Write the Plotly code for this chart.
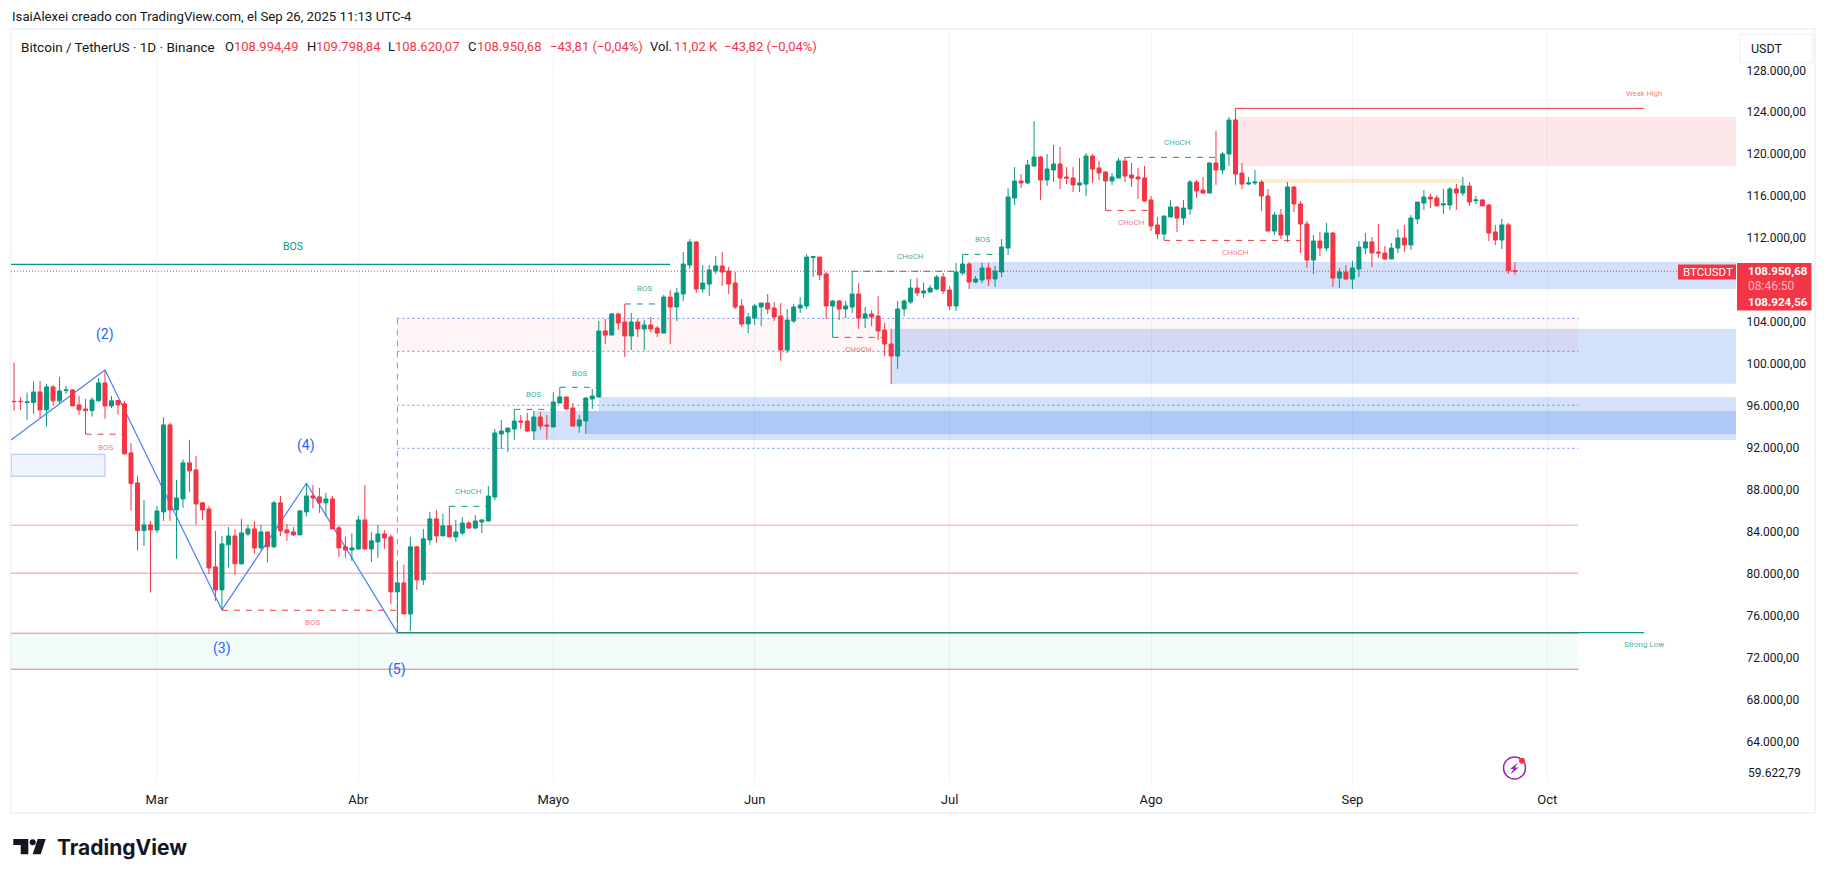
import pandas as pd
import plotly.graph_objects as go

# daily candles, month by month
open_vals = [
    96560, 96560, 96440, 96440, 97450, 95740, 97930, 96600, 97580, 97640, 96210, 95830, 95670, 96600, 98310, 96120, 96630, 96310, 91640, 88780, 84240, 84780,
    84300, 86020, 94310, 86210, 87260, 90690, 90020, 86880, 86300, 80780, 78590, 82880, 83730, 81070, 83920, 84400, 82590, 84110, 82690, 86880, 84300, 84110, 83830, 86020, 87540, 87450, 86880, 87260, 84500, 82690, 82400,
    82490, 85260, 82490, 83160, 83920, 83640, 78400, 79250, 76300, 82690, 79540, 83350, 85350, 83730, 84690, 83640, 84010, 84960, 84480, 85060, 85150, 87440, 93440, 93630, 93920, 94680, 94680, 93730, 95060, 94300,
    94110, 96390, 96970, 95920, 94200, 94680, 96780, 96970, 103260, 102870, 104880, 104110, 102780, 104110, 103450, 103830, 103540, 103060, 106490, 105540, 106780, 109540, 111740, 107260, 107730, 108970, 109450, 108970, 107830, 105640, 103920,
    104490, 105540, 105920, 105450, 104680, 101440, 104210, 105450, 105640, 110270, 110300, 108690, 105640, 106110, 105350, 105540, 106780, 104490, 104880, 104680, 103350, 102020, 100870, 105350, 106020, 107350, 106880, 106970, 107260, 108400,
    107160, 105640, 108780, 109640, 107920, 108120, 109260, 108210, 108880, 111160, 115930, 117550, 117360, 118980, 119830, 117640, 118600, 119170, 117930, 117830, 117170, 117260, 119930, 118790, 118400, 117550, 117830, 119450, 118120, 117930, 117830,
    115740, 113360, 112500, 114120, 115070, 114020, 114880, 117450, 116690, 116400, 119260, 118600, 120120, 123360, 118310, 117260, 117360, 117450, 116120, 112780, 114310, 112400, 116980, 115360, 113450, 110020, 111830, 111160, 112590, 108300, 108880,
    108210, 109160, 111160, 111740, 110780, 110690, 110120, 111160, 112120, 111450, 113930, 115450, 116020, 115930, 115260, 115260, 116790, 116400, 117070, 115670, 115740, 115260, 112690, 111930, 113360, 108994.49,
]
high_vals = [
    100250, 96950, 97390, 98440, 98500, 98220, 98120, 98880, 98030, 97710, 97070, 96790, 96950, 98760, 99550, 97070, 96690, 96600, 92560, 89450, 87160, 85160,
    86590, 95040, 94500, 89070, 91040, 92880, 91360, 86990, 86590, 84210, 83730, 84590, 84370, 85350, 84780, 85160, 84780, 84110, 87070, 87540, 84880, 84590, 86210, 88750, 88590, 88310, 87830, 87540, 84690, 83640, 83990,
    85640, 88590, 84110, 84780, 84300, 83890, 81350, 80970, 83640, 82780, 84400, 86020, 86210, 85830, 86590, 85260, 85530, 85150, 85720, 85340, 88490, 93920, 94780, 94020, 95790, 95250, 95440, 95630, 95570, 95250,
    97410, 97890, 96970, 96390, 95250, 96940, 97730, 104210, 104400, 104970, 105000, 105830, 104970, 104400, 104300, 104590, 103730, 106690, 107160, 107350, 110780, 112020, 111830, 109540, 109540, 110400, 110780, 109350, 108880, 106300, 104970,
    105830, 105920, 106780, 106020, 105920, 105350, 105830, 106490, 110590, 110400, 110300, 108880, 106210, 106210, 106110, 108970, 107830, 105540, 105260, 106590, 104020, 103450, 106110, 106300, 108210, 108310, 107860, 107640, 108590, 108780,
    107540, 109740, 110560, 109830, 108500, 109740, 109740, 109450, 112020, 116880, 118880, 118210, 119550, 123260, 119930, 120120, 120980, 120790, 118880, 118880, 119740, 120220, 120120, 119450, 118500, 118310, 119740, 119830, 119260, 118790, 118980,
    116120, 114120, 114210, 115740, 115170, 115740, 117640, 117640, 117930, 119360, 122310, 120310, 123650, 124470, 119260, 117930, 118600, 117640, 116790, 114590, 114880, 117450, 117070, 115640, 113740, 112400, 112690, 113550, 112690, 109260, 109540,
    109930, 111830, 112590, 112210, 113450, 111350, 111640, 112970, 113360, 114310, 115550, 116690, 116310, 116210, 116790, 116980, 117260, 117930, 117450, 116120, 115830, 115360, 113360, 113930, 113550, 109798.84,
]
low_vals = [
    95670, 95740, 94790, 95360, 94940, 94150, 96120, 96370, 97260, 96120, 95260, 93420, 95100, 96530, 94910, 95900, 95290, 91480, 86150, 82340, 82780, 78330,
    83990, 85160, 85160, 81540, 86400, 87930, 84780, 85260, 80110, 77540, 76680, 80720, 80020, 80970, 83730, 82020, 82400, 81190, 82590, 83730, 83260, 83730, 83830, 85580, 86370, 85920, 85580, 84400, 81730, 81640, 81350,
    82400, 82400, 81260, 81640, 82490, 77250, 74520, 76300, 74680, 78590, 79060, 82880, 83070, 83730, 83640, 83160, 83820, 84390, 84390, 84010, 85100, 87150, 92010, 91730, 92870, 93920, 93630, 92870, 93820, 92930,
    94110, 96360, 95820, 94200, 93540, 93440, 95820, 96970, 102020, 102870, 103350, 100780, 101440, 102680, 101440, 103160, 102680, 103060, 102020, 104210, 106110, 109160, 106880, 106880, 106590, 108690, 107540, 106780, 105350, 103640, 103060,
    103830, 103730, 104880, 104210, 100400, 101160, 104020, 104970, 105350, 108400, 108110, 104400, 102650, 104300, 104490, 104970, 103450, 103540, 103730, 102400, 100870, 98210, 99630, 104680, 105830, 106590, 106400, 106880, 107160, 106780,
    105260, 105160, 108590, 107260, 107830, 107830, 107540, 107450, 108400, 110500, 115260, 116880, 117260, 118880, 115740, 117070, 117450, 116790, 117260, 116500, 116500, 116120, 117360, 117640, 114750, 117170, 117830, 117450, 116980, 115830, 115550,
    112780, 112020, 111890, 114120, 112690, 113360, 114310, 115930, 116310, 116400, 117170, 118210, 118980, 117170, 116790, 117170, 117170, 114690, 112780, 112400, 112020, 111740, 114590, 110690, 109260, 108690, 110400, 110880, 107450, 107350, 108120,
    107260, 108400, 110590, 109350, 110210, 110020, 110120, 110690, 110780, 110970, 113450, 114780, 114980, 115170, 114400, 114780, 114780, 116120, 115170, 115360, 115170, 111830, 111450, 111070, 108690, 108620.07,
]
close_vals = [
    96530, 96530, 96500, 97450, 95740, 97930, 96600, 97550, 97640, 96120, 95740, 95670, 96690, 98310, 96120, 96600, 96210, 91550, 88720, 84240, 84780, 84300,
    86110, 94310, 86210, 87350, 90690, 89930, 86780, 86210, 80680, 78590, 82970, 83730, 81070, 84020, 84400, 82590, 84110, 82690, 86880, 84210, 84020, 83830, 86110, 87540, 87350, 86880, 87260, 84400, 82590, 82400, 82590,
    85260, 82490, 83260, 83920, 83540, 78400, 79250, 76300, 82690, 79540, 83450, 85350, 83730, 84690, 83640, 84110, 84960, 84480, 85150, 85250, 87530, 93540, 93730, 94010, 94680, 94580, 93730, 95060, 94200, 94200,
    96490, 96970, 95820, 94200, 94780, 96870, 97060, 103260, 102870, 104880, 104020, 102780, 104110, 103450, 103830, 103450, 103060, 106490, 105540, 106880, 109640, 111740, 107260, 107830, 109070, 109450, 108880, 107730, 105540, 103920, 104590,
    105640, 105920, 105350, 104590, 101440, 104300, 105540, 105730, 110300, 110340, 108590, 105640, 106110, 105350, 105640, 106780, 104490, 104880, 104590, 103260, 102020, 100870, 105350, 106110, 107350, 106880, 107070, 107350, 108400, 107070,
    105640, 108880, 109640, 107920, 108210, 109260, 108210, 108970, 111260, 116020, 117550, 117360, 119070, 119830, 117640, 118690, 119170, 117830, 117830, 117170, 117360, 119930, 118690, 118310, 117550, 117930, 119450, 118020, 117830, 117740, 115640,
    113260, 112500, 114210, 115070, 114020, 114970, 117450, 116600, 116400, 119260, 118600, 120120, 123360, 118210, 117260, 117360, 117450, 116120, 112780, 114310, 112400, 116980, 115360, 113450, 110020, 111830, 111160, 112590, 108300, 108880, 108210,
    109260, 111260, 111740, 110690, 110690, 110120, 111160, 112120, 111450, 114020, 115540, 116020, 115830, 115170, 115360, 116790, 116400, 117070, 115550, 115740, 115170, 112590, 111930, 113360, 108990, 108950.68,
]
assert len(open_vals) == len(high_vals) == len(low_vals) == len(close_vals) == 232
dates = pd.date_range("2025-02-07", periods=len(open_vals), freq="D")

axis_start = "2025-02-06 12:43"
axis_end = "2025-10-30 01:00"
zone_end = "2025-10-05 19:00"
label_end = "2025-10-15 21:00"

month_ticks = ["2025-03-01", "2025-04-01", "2025-05-01", "2025-06-01", "2025-07-01", "2025-08-01", "2025-09-01", "2025-10-01"]
month_labels = ["Mar", "Abr", "Mayo", "Jun", "Jul", "Ago", "Sep", "Oct"]
price_ticks = [128000, 124000, 120000, 116000, 112000, 104000, 100000, 96000, 92000, 88000, 84000, 80000, 76000, 72000, 68000, 64000]
price_labels = ["128.000,00", "124.000,00", "120.000,00", "116.000,00", "112.000,00", "104.000,00", "100.000,00", "96.000,00", "92.000,00", "88.000,00", "84.000,00", "80.000,00", "76.000,00", "72.000,00", "68.000,00", "64.000,00"]

# wave count
wave_dates = [axis_start, "2025-02-21", "2025-03-11", "2025-03-24", "2025-04-07"]
wave_prices = [92880, 99550, 76680, 88750, 74520]

ZONE_BLUE = "rgba(33,105,235,0.2)"
# (start, end, bottom, top, colour)
zones = [
    ("2025-08-14", axis_end, 119010, 123650, "rgba(242,54,69,0.12)"),
    ("2025-08-18", "2025-09-18", 117390, 117740, "rgba(255,152,0,0.2)"),
    ("2025-07-04", axis_end, 107260, 109830, ZONE_BLUE),
    ("2025-06-22", axis_end, 98240, 103480, ZONE_BLUE),
    ("2025-04-07", zone_end, 101320, 104460, "rgba(242,54,69,0.05)"),
    ("2025-04-28", axis_end, 92870, 95630, ZONE_BLUE),
    ("2025-05-06", axis_end, 93440, 95630, ZONE_BLUE),
    ("2025-05-08", axis_end, 95630, 96970, ZONE_BLUE),
    (axis_start, "2025-02-21", 89420, 91510, "rgba(41,98,255,0.08)"),
    (axis_start, zone_end, 71030, 74460, "rgba(8,220,129,0.05)"),
]
# (start, end, price, colour, dash, width)
RED = "#f23645"
GREEN = "#089981"
BLUE = "#2962ff"
DOT_BLUE = "rgba(41,98,255,0.7)"
levels = [
    ("2025-02-18", "2025-02-24", 93420, RED, "6px,6px", 1),
    ("2025-03-11", "2025-04-07", 76650, RED, "6px,6px", 1),
    ("2025-06-13", "2025-06-21", 102650, RED, "6px,6px", 1),
    ("2025-07-25", "2025-08-01", 114750, RED, "6px,6px", 1),
    ("2025-08-03", "2025-08-24", 111890, RED, "6px,6px", 1),
    ("2025-04-15", "2025-04-21", 86550, GREEN, "6px,6px", 1),
    ("2025-04-25", "2025-05-01", 95790, GREEN, "6px,6px", 1),
    ("2025-05-02", "2025-05-08", 97890, GREEN, "6px,6px", 1),
    ("2025-05-12", "2025-05-18", 105830, GREEN, "6px,6px", 1),
    ("2025-06-16", "2025-07-02", 108940, GREEN, "6px,6px", 1),
    ("2025-07-03", "2025-07-09", 110560, GREEN, "6px,6px", 1),
    ("2025-07-28", "2025-08-11", 119800, GREEN, "6px,6px", 1),
    (axis_start, "2025-05-19", 109610, GREEN, "solid", 1.3),
    ("2025-08-14", label_end, 124470, RED, "solid", 1),
    ("2025-04-07", label_end, 74520, GREEN, "solid", 1.3),
    (axis_start, zone_end, 84750, "rgba(242,54,69,0.45)", "solid", 1),
    (axis_start, zone_end, 80180, "rgba(242,54,69,0.55)", "solid", 1),
    (axis_start, zone_end, 74460, "rgba(242,54,69,0.6)", "solid", 1),
    (axis_start, zone_end, 71030, "rgba(242,54,69,0.7)", "solid", 1),
    ("2025-04-07", zone_end, 104460, DOT_BLUE, "2px,3px", 1),
    ("2025-04-07", zone_end, 101320, DOT_BLUE, "2px,3px", 1),
    ("2025-04-07", zone_end, 96180, DOT_BLUE, "2px,3px", 1),
    ("2025-04-07", zone_end, 92080, DOT_BLUE, "2px,3px", 1),
]
# (text, date, price, colour, size)
SOFT_RED = "rgba(242,54,69,0.7)"
SOFT_GREEN = "rgba(8,153,129,0.8)"
labels = [
    ("BOS", "2025-03-22", 111350, GREEN, 10.5),
    ("BOS", "2025-02-21", 92200, SOFT_RED, 8),
    ("BOS", "2025-03-25", 75460, SOFT_RED, 8),
    ("CHoCH", "2025-04-18", 87920, SOFT_GREEN, 8),
    ("BOS", "2025-04-28", 97160, SOFT_GREEN, 8),
    ("BOS", "2025-05-05", 99250, SOFT_GREEN, 8),
    ("BOS", "2025-05-15", 107260, SOFT_GREEN, 8),
    ("CHoCH", "2025-06-17", 101450, SOFT_RED, 8),
    ("CHoCH", "2025-06-25", 110400, SOFT_GREEN, 8),
    ("BOS", "2025-07-06", 111930, SOFT_GREEN, 8),
    ("CHoCH", "2025-07-29", 113550, SOFT_RED, 8),
    ("CHoCH", "2025-08-05", 121170, SOFT_GREEN, 8),
    ("CHoCH", "2025-08-14", 110780, SOFT_RED, 8),
    ("Weak High", label_end, 125930, SOFT_RED, 7.6),
    ("Strong Low", label_end, 73340, SOFT_GREEN, 8),
    ("(2)", "2025-02-21", 102970, BLUE, 14),
    ("(3)", "2025-03-11", 73050, BLUE, 14),
    ("(4)", "2025-03-24", 92300, BLUE, 14),
    ("(5)", "2025-04-07", 70960, BLUE, 14),
]
# header pieces: text, left pixel, colour, size
INK = "#131722"
legend_parts = [
    ("Bitcoin / TetherUS · 1D · Binance", 20, INK, 13.5),
    ("O", 224, INK, 13), ("108.994,49", 233, RED, 13),
    ("H", 306, INK, 13), ("109.798,84", 314.5, RED, 13),
    ("L", 387, INK, 13), ("108.620,07", 394, RED, 13),
    ("C", 467, INK, 13), ("108.950,68", 476, RED, 13),
    ("−43,81 (−0,04%)", 548.5, RED, 13),
    ("Vol.", 649, INK, 13), ("11,02 K", 673, RED, 13),
    ("−43,82 (−0,04%)", 723, RED, 13),
]

PLOT_L, PLOT_R, PLOT_T, PLOT_B = 11, 1736, 29, 783
FONT = "Roboto, sans-serif"


def px_x(v):
    return (v - PLOT_L) / (PLOT_R - PLOT_L)


def px_y(v):
    return (PLOT_B - v) / (PLOT_B - PLOT_T)


def page_text(text, x, y, size=12, color=INK, family=FONT, anchor="left"):
    return dict(text=text, x=px_x(x), y=px_y(y), xref="paper", yref="paper", showarrow=False,
                xanchor=anchor, yanchor="middle", borderpad=0,
                font=dict(size=size, color=color, family=family))


def page_rect(x0, y0, x1, y1, fill, line="rgba(0,0,0,0)", width=0, layer="above"):
    return dict(type="rect", xref="paper", yref="paper", x0=px_x(x0), x1=px_x(x1), y0=px_y(y0), y1=px_y(y1),
                fillcolor=fill, line=dict(color=line, width=width), layer=layer)


def page_path(points, fill):
    p = "M " + " L ".join(f"{px_x(a):.5f} {px_y(b):.5f}" for a, b in points) + " Z"
    return dict(type="path", xref="paper", yref="paper", path=p, fillcolor=fill, line=dict(width=0), layer="above")


fig = go.Figure()

fig.add_trace(go.Candlestick(
    x=dates, open=open_vals, high=high_vals, low=low_vals, close=close_vals,
    increasing=dict(line=dict(color=GREEN, width=1), fillcolor=GREEN),
    decreasing=dict(line=dict(color=RED, width=1), fillcolor=RED),
    whiskerwidth=0, showlegend=False,
))

# last price, dotted across the whole chart
fig.add_trace(go.Scatter(x=[axis_start, axis_end], y=[close_vals[-1], close_vals[-1]], mode="lines",
                         line=dict(color=RED, width=1, dash="1px,2px"), hoverinfo="skip", showlegend=False))

shapes = []
for start, end, bottom, top, colour in zones:
    shapes.append(dict(type="rect", xref="x", yref="y", x0=start, x1=end, y0=bottom, y1=top,
                       fillcolor=colour, line=dict(width=0), layer="between"))
for start, end, price, colour, dash, width in levels:
    shapes.append(dict(type="line", xref="x", yref="y", x0=start, x1=end, y0=price, y1=price,
                       line=dict(color=colour, width=width, dash=dash), layer="between"))
for i in range(len(wave_dates) - 1):
    shapes.append(dict(type="line", xref="x", yref="y", x0=wave_dates[i], x1=wave_dates[i + 1],
                       y0=wave_prices[i], y1=wave_prices[i + 1],
                       line=dict(color="#4a7dff", width=1.2), layer="between"))
# dashed drop line from the top of the range to the (5) low
shapes.append(dict(type="line", xref="x", yref="y", x0="2025-04-07", x1="2025-04-07", y0=74520, y1=104460,
                   line=dict(color="#6f96ff", width=1, dash="6px,5px"), layer="between"))
# left box outline
shapes.append(dict(type="rect", xref="x", yref="y", x0=axis_start, x1="2025-02-21", y0=89420, y1=91510,
                   line=dict(color="#a8c0fb", width=1), layer="between"))

# page furniture
shapes.append(page_rect(10.5, 29, 1815, 813, "rgba(0,0,0,0)", "#f0f3fa", 2, "below"))
shapes.append(page_rect(1738, 60, 1813, 66, "#ffffff"))
shapes.append(page_rect(1740, 34, 1812.5, 62.5, "#ffffff", "#f0f3fa", 1.5))
shapes.append(page_rect(1678, 264.5, 1736, 279.5, RED))
shapes.append(page_rect(1737, 263, 1811.5, 310.5, RED))
# TradingView logo
shapes.append(page_path([(13.3, 839), (28.3, 839), (28.3, 854.3), (20.7, 854.3), (20.7, 845), (13.3, 845)], "#131722"))
shapes.append(dict(type="circle", xref="paper", yref="paper", x0=px_x(29.7), x1=px_x(35.7), y0=px_y(845.3), y1=px_y(839.3),
                   fillcolor="#131722", line=dict(width=0), layer="above"))
shapes.append(page_path([(37.7, 839), (45.7, 839), (40.7, 854.3), (32.7, 854.3)], "#131722"))
# lightning badge
shapes.append(dict(type="circle", xref="paper", yref="paper", x0=px_x(1503.5), x1=px_x(1525.5), y0=px_y(779), y1=px_y(757),
                   fillcolor="#ffffff", line=dict(color="#9c27b0", width=1.5), layer="above"))
shapes.append(page_path([(1518, 762.5), (1510, 769), (1513.5, 769), (1510.5, 774.5), (1518.5, 767.5), (1515, 767.5)], "#9c27b0"))
shapes.append(dict(type="circle", xref="paper", yref="paper", x0=px_x(1519), x1=px_x(1525), y0=px_y(763.7), y1=px_y(757.7),
                   fillcolor=RED, line=dict(width=0), layer="above"))

annotations = []
for text, day, price, colour, size in labels:
    annotations.append(dict(text=text, x=day, y=price, xref="x", yref="y", showarrow=False, borderpad=0,
                            font=dict(size=size, color=colour, family=FONT)))
annotations.append(page_text("IsaiAlexei creado con TradingView.com, el Sep 26, 2025 11:13 UTC-4", 11, 16.7, 13.2))
for text, x, colour, size in legend_parts:
    annotations.append(page_text(text, x, 46.7, size, colour))
annotations.append(page_text("USDT", 1750, 48.5, 12.5))
annotations.append(page_text("59.622,79", 1746.5, 773.3, 12))
annotations.append(page_text("BTCUSDT", 1682, 272, 11.5, "#ffffff"))
annotations.append(page_text("<b>108.950,68</b>", 1746.5, 270.7, 11.6, "#ffffff"))
annotations.append(page_text("08:46:50", 1746.5, 285.5, 12, "rgba(255,255,255,0.65)"))
annotations.append(page_text("<b>108.924,56</b>", 1746.5, 301.7, 11.6, "#ffffff"))
annotations.append(page_text("<b>TradingView</b>", 56, 847.5, 21, "#131722", "Inter, sans-serif"))

fig.update_layout(
    width=1826, height=880,
    margin=dict(l=PLOT_L, r=1826 - PLOT_R, t=PLOT_T, b=880 - PLOT_B, autoexpand=False),
    paper_bgcolor="#ffffff", plot_bgcolor="#ffffff",
    font=dict(family=FONT, color=INK),
    boxgap=0.216, boxgroupgap=0.216,
    showlegend=False,
    shapes=shapes, annotations=annotations,
)
fig.update_xaxes(range=[axis_start, axis_end], type="date", rangeslider_visible=False,
                 tickmode="array", tickvals=month_ticks, ticktext=month_labels,
                 showgrid=True, gridcolor="#f0f3fa", gridwidth=1, zeroline=False, showline=False,
                 ticks="outside", ticklen=4, tickcolor="rgba(0,0,0,0)", tickfont=dict(size=13, color=INK))
fig.update_yaxes(range=[60190, 132030], side="right", tickmode="array", tickvals=price_ticks, ticktext=price_labels,
                 showgrid=False, zeroline=False, showline=False, ticklabelshift=-1,
                 ticks="outside", ticklen=7, tickcolor="rgba(0,0,0,0)", tickfont=dict(size=12, color=INK))

fig.write_html("out.html", config={"displayModeBar": False},
               post_script="document.body.style.margin='0';document.body.style.overflow='hidden';")
